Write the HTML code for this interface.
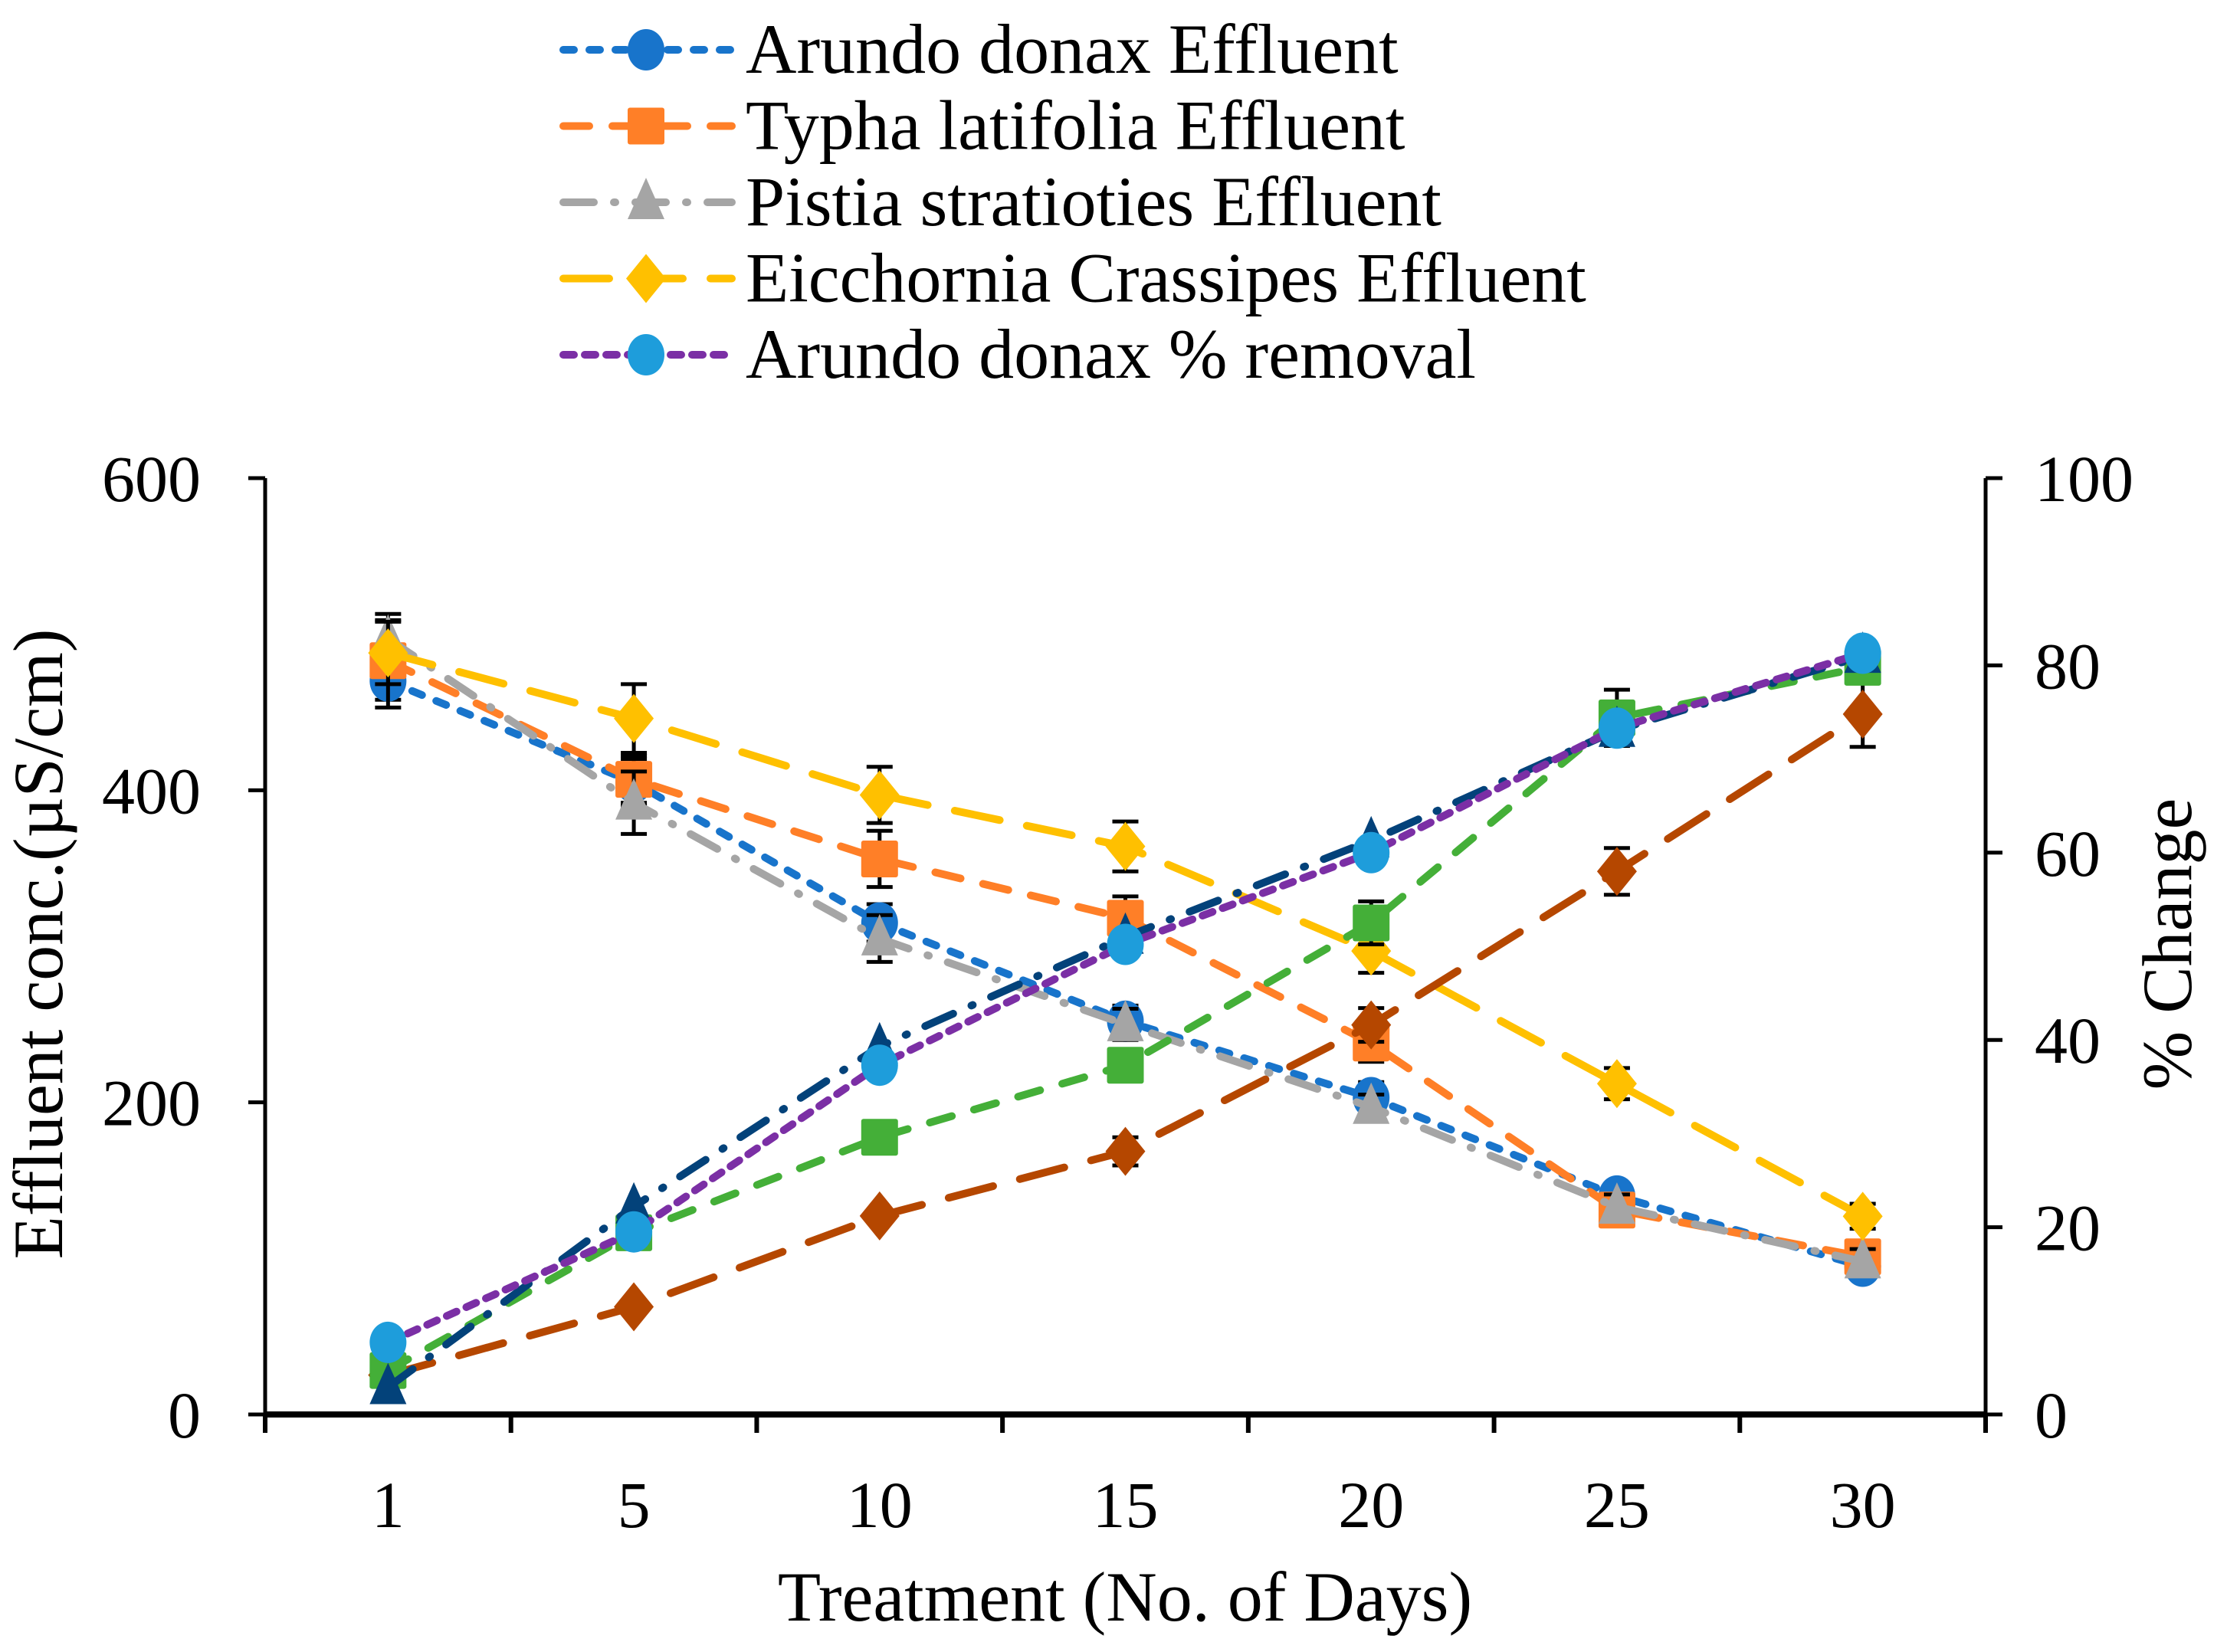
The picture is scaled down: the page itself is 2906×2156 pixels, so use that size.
<!DOCTYPE html>
<html><head><meta charset="utf-8"><style>
html,body{margin:0;padding:0;background:#fff}
svg{display:block;font-family:"Liberation Serif",serif}
</style></head><body>
<svg id="chart" xmlns="http://www.w3.org/2000/svg" width="2906" height="2156" viewBox="0 0 2906 2156">
<rect width="2906" height="2156" fill="#fff"/>
<g id="plot"></g>
<g id="legend"></g>
<text x="60" y="1232" font-size="92" text-anchor="middle" transform="rotate(-90 60 1232)" dominant-baseline="middle">Effluent conc.(µS/cm)</text>
<text x="2838" y="1232" font-size="92" text-anchor="middle" transform="rotate(-90 2838 1232)" dominant-baseline="middle">% Change</text>
<text x="1468" y="2115" font-size="92" text-anchor="middle">Treatment (No. of Days)</text>
</svg>
<script>
const categories = ["1","5","10","15","20","25","30"];
const leftTicks = [0,200,400,600];
const rightTicks = [0,20,40,60,80,100];
const arundoEff = [470,405,315,252,203,140,95];
const arundoEffErr = [12,15,12,10,10,8,8];
const typhaEff = [483,407,356,318,238,131,101];
const typhaEffErr = [30,15,18,14,12,8,8];
const pistiaEff = [497,392,305,250,197,133,98];
const pistiaEffErr = [12,20,15,10,8,8,8];
const eicchEff = [488,446,397,364,297,212,127];
const eicchEffErr = [20,22,18,16,14,10,8];
const arundoRem = [7.7,19.5,37.3,50.2,60,73.3,81.3];
const greenRem = [4.7,19.4,29.6,37.3,52.5,74.4,79.8];
const greenRemErr = [0,0,0,0,2.3,3,0];
const navyRem = [2.9,22.2,39.3,51,61.3,73.1,81];
const orangeRem = [4.2,11.5,21.2,28.1,41.6,58,74.8];
const orangeRemErr = [0,0,0,1.5,1.8,2.5,3.5];

const NS="http://www.w3.org/2000/svg";
const L=346,R=2591,T=624,B=1846;
const cw=(R-L)/categories.length;
const xS=i=>L+cw*(i+0.5);
const yL=v=>B-(v/600)*(B-T);
const yR=v=>B-(v/100)*(B-T);
const plot=document.getElementById('plot');
function mk(tag,attrs,parent){const e=document.createElementNS(NS,tag);for(const k in attrs)e.setAttribute(k,attrs[k]);(parent||plot).appendChild(e);return e;}

let a=mk('line',{x1:L,y1:B,x2:R,y2:B,stroke:'#000','stroke-width':8});


a=mk('line',{x1:L,y1:T,x2:L,y2:B+4,stroke:'#000','stroke-width':5});


a=mk('line',{x1:R,y1:T,x2:R,y2:B+4,stroke:'#000','stroke-width':5});


for(let i=0;i<=categories.length;i++){
  const x=L+cw*i;
  const t=mk('line',{x1:x,y1:B,x2:x,y2:B+24,stroke:'#000','stroke-width':6});
  
  
}
categories.forEach((c,i)=>{
  const t=mk('text',{x:xS(i),y:1993,'font-size':86,'text-anchor':'middle'});t.textContent=c;
  
  
});
leftTicks.forEach(v=>{
  const y=yL(v);
  const t=mk('line',{x1:L-22,y1:y,x2:L,y2:y,stroke:'#000','stroke-width':5});
  
  
  const s=mk('text',{x:262,y:y+30,'font-size':86,'text-anchor':'end'});s.textContent=v;
  
  
});
rightTicks.forEach(v=>{
  const y=yR(v);
  const t=mk('line',{x1:R,y1:y,x2:R+22,y2:y,stroke:'#000','stroke-width':5});
  
  
  const s=mk('text',{x:2655,y:y+30,'font-size':86,'text-anchor':'start'});s.textContent=v;
  
  
});

function marker(shape,x,y,col,g){
  const r=24;let m;
  if(shape==='circle')m=mk('ellipse',{cx:x,cy:y,rx:r,ry:r+3,fill:col},g);
  else if(shape==='square')m=mk('rect',{x:x-r,y:y-r,width:2*r,height:2*r,rx:3,fill:col},g);
  else if(shape==='triangle')m=mk('polygon',{points:`${x},${y-r-8} ${x+r},${y+r-2} ${x-r},${y+r-2}`,fill:col},g);
  else m=mk('polygon',{points:`${x},${y-r-8} ${x+r+2},${y} ${x},${y+r+8} ${x-r-2},${y}`,fill:col},g);
  return m;
}
const series=[
 {name:'arundo-effluent',vals:arundoEff,err:arundoEffErr,ax:yL,col:'#1874CB',mc:'#1874CB',shape:'circle',dash:'14 20'},
 {name:'typha-effluent',vals:typhaEff,err:typhaEffErr,ax:yL,col:'#FF7F27',mc:'#FF7F27',shape:'square',dash:'34 30'},
 {name:'pistia-effluent',vals:pistiaEff,err:pistiaEffErr,ax:yL,col:'#A5A5A5',mc:'#A5A5A5',shape:'triangle',dash:'40 26 2 26'},
 {name:'eicchornia-effluent',vals:eicchEff,err:eicchEffErr,ax:yL,col:'#FFC000',mc:'#FFC000',shape:'diamond',dash:'60 36'},
 {name:'orange-removal',vals:orangeRem,err:orangeRemErr,ax:yR,col:'#B54700',mc:'#B54700',shape:'diamond',dash:'60 36'},
 {name:'green-removal',vals:greenRem,err:greenRemErr,ax:yR,col:'#44AF38',mc:'#44AF38',shape:'square',dash:'30 30'},
 {name:'navy-removal',vals:navyRem,err:null,ax:yR,col:'#03427A',mc:'#03427A',shape:'triangle',dash:'40 26 2 26'},
 {name:'arundo-removal',vals:arundoRem,err:null,ax:yR,col:'#7B2FA5',mc:'#1E9DDB',shape:'circle',dash:'14 14'}
];
series.forEach(s=>{
  const g=mk('g',{});
  
  
  s.g=g;
  const pts=s.vals.map((v,i)=>xS(i)+','+s.ax(v)).join(' ');
  const pl=mk('polyline',{points:pts,fill:'none',stroke:s.col,'stroke-width':10,'stroke-dasharray':s.dash,'stroke-linecap':'round'},g);
  
  
});
series.forEach(s=>{
  if(s.err){s.vals.forEach((v,i)=>{
    const e=s.err[i];if(!e)return;const x=xS(i);const y1=s.ax(v+e),y2=s.ax(v-e);
    const eg=mk('g',{stroke:'#000','stroke-width':5},s.g);
    
    
    mk('line',{x1:x,y1:y1,x2:x,y2:y2},eg);
    mk('line',{x1:x-17,y1:y1,x2:x+17,y2:y1},eg);
    mk('line',{x1:x-17,y1:y2,x2:x+17,y2:y2},eg);
  });}
  s.vals.forEach((v,i)=>{
    const m=marker(s.shape,xS(i),s.ax(v),s.mc,s.g);
    
    
  });
});
const leg=document.getElementById('legend');
const legItems=[
 ['Arundo donax Effluent','#1874CB','#1874CB','circle','14 20'],
 ['Typha latifolia Effluent','#FF7F27','#FF7F27','square','34 30'],
 ['Pistia stratioties Effluent','#A5A5A5','#A5A5A5','triangle','40 26 2 26'],
 ['Eicchornia Crassipes Effluent','#FFC000','#FFC000','diamond','60 36'],
 ['Arundo donax % removal','#7B2FA5','#1E9DDB','circle','14 14']
];
legItems.forEach((it,k)=>{
  const y=65+k*99.5;
  const g=mk('g',{},leg);
  
  
  mk('line',{x1:735,y1:y,x2:955,y2:y,stroke:it[1],'stroke-width':10,'stroke-dasharray':it[4],'stroke-linecap':'round'},g);
  marker(it[3],843,y,it[2],g);
  const t=mk('text',{x:973,y:y+30,'font-size':92},g);t.textContent=it[0];
});
</script>
</body></html>
